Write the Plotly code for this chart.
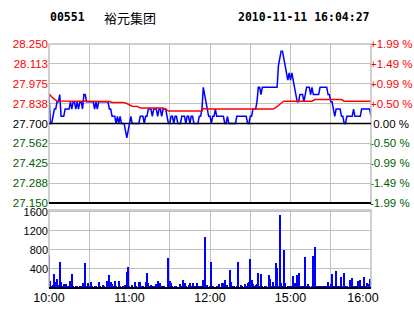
import plotly.graph_objects as go

# ---------------- data ----------------
stock_code = "00551"
stock_name = "裕元集团"
stamp = "2010-11-11 16:04:27"
prev_close = 27.70

price = [
    27.90, 27.70, 27.70, 27.75, 27.80, 27.80, 27.85, 27.85, 27.90, 27.75,
    27.75, 27.75, 27.80, 27.80, 27.80, 27.80, 27.85, 27.80, 27.85, 27.85,
    27.80, 27.85, 27.80, 27.85, 27.85, 27.80, 27.90, 27.90, 27.85, 27.85,
    27.85, 27.85, 27.85, 27.85, 27.80, 27.85, 27.80, 27.85, 27.85, 27.85,
    27.85, 27.85, 27.85, 27.85, 27.85, 27.80, 27.80, 27.75, 27.75, 27.75,
    27.70, 27.75, 27.70, 27.75, 27.70, 27.70, 27.70, 27.65, 27.60, 27.65,
    27.70, 27.75, 27.70, 27.70, 27.70, 27.70, 27.70, 27.70, 27.75, 27.75,
    27.75, 27.70, 27.75, 27.75, 27.80, 27.80, 27.80, 27.75, 27.80, 27.80,
    27.80, 27.75, 27.80, 27.80, 27.75, 27.80, 27.80, 27.80, 27.75, 27.70,
    27.70, 27.75, 27.75, 27.70, 27.75, 27.75, 27.70, 27.70, 27.70, 27.75,
    27.75, 27.75, 27.70, 27.75, 27.75, 27.70, 27.75, 27.75, 27.70, 27.70,
    27.70, 27.70, 27.75, 27.75, 27.80, 27.95, 27.90, 27.85, 27.80, 27.75,
    27.75, 27.70, 27.75, 27.75, 27.80, 27.75, 27.75, 27.75, 27.75, 27.75,
    27.75, 27.70, 27.70, 27.75, 27.70, 27.70, 27.70, 27.70, 27.70, 27.70,
    27.75, 27.75, 27.75, 27.75, 27.75, 27.75, 27.75, 27.75, 27.70, 27.70,
    27.75, 27.75, 27.80, 27.80, 27.80, 27.85, 27.95, 27.95, 27.90, 27.95,
    27.95, 27.95, 27.95, 27.95, 27.95, 27.95, 27.95, 27.95, 27.95, 27.95,
    27.95, 28.10, 28.15, 28.20, 28.20, 28.15, 28.10, 28.05, 28.00, 28.05,
    28.00, 28.05, 28.00, 27.95, 27.90, 27.85, 27.85, 27.90, 27.90, 27.90,
    27.85, 27.90, 27.95, 27.95, 27.95, 27.90, 27.95, 27.90, 27.90, 27.90,
    27.90, 27.90, 27.95, 27.95, 27.95, 27.95, 27.95, 27.95, 27.90, 27.90,
    27.85, 27.85, 27.80, 27.75, 27.80, 27.80, 27.80, 27.80, 27.75, 27.75,
    27.70, 27.70, 27.75, 27.75, 27.75, 27.75, 27.75, 27.80, 27.75, 27.75,
    27.75, 27.75, 27.75, 27.80, 27.80, 27.80, 27.80, 27.80, 27.80, 27.80,
    27.75,
]
minutes = list(range(len(price)))

avg_t = [0, 3, 6, 45, 47, 55, 58, 62, 66, 68, 85, 87, 89, 114, 115, 117, 120,
         140, 142, 152, 155, 167, 169, 171, 173, 175, 196, 198, 218, 220, 240]
avg_p = [27.905, 27.875, 27.855, 27.852, 27.846, 27.846, 27.838, 27.82, 27.818,
         27.808, 27.808, 27.80, 27.786, 27.786, 27.805, 27.80, 27.80, 27.80,
         27.795, 27.795, 27.80, 27.80, 27.81, 27.822, 27.84, 27.854, 27.854,
         27.866, 27.866, 27.854, 27.854]

volume = [
    700, 140, 50, 60, 290, 130, 180, 60, 550, 130,
    40, 75, 60, 80, 50, 30, 150, 290, 40, 30,
    40, 50, 20, 40, 40, 109, 30, 520, 40, 109,
    40, 130, 40, 30, 40, 40, 20, 130, 40, 30,
    60, 40, 30, 150, 40, 266, 117, 80, 40, 150,
    40, 30, 150, 40, 30, 40, 20, 60, 335, 437,
    40, 20, 60, 30, 130, 40, 30, 130, 130, 40,
    40, 30, 130, 314, 109, 40, 60, 40, 50, 30,
    80, 143, 40, 116, 40, 40, 40, 30, 20, 642,
    143, 116, 40, 30, 40, 40, 20, 30, 82, 40,
    164, 116, 40, 30, 60, 95, 40, 116, 30, 40,
    116, 40, 40, 40, 30, 178, 1066, 40, 60, 30,
    40, 553, 40, 30, 20, 40, 40, 80, 30, 95,
    95, 178, 40, 60, 30, 369, 130, 40, 40, 30,
    40, 553, 30, 60, 40, 30, 80, 40, 95, 130,
    621, 178, 75, 40, 60, 80, 314, 40, 290, 40,
    30, 40, 40, 30, 267, 180, 40, 120, 40, 526,
    431, 40, 1531, 100, 40, 793, 100, 30, 40, 40,
    40, 40, 246, 100, 40, 267, 307, 30, 40, 40,
    30, 656, 40, 80, 40, 30, 40, 677, 861, 30,
    40, 40, 40, 40, 40, 40, 40, 40, 120, 40,
    80, 287, 40, 40, 349, 40, 40, 30, 232, 40,
    307, 40, 40, 30, 170, 40, 212, 40, 30, 40,
    150, 40, 164, 40, 30, 225, 40, 100, 80, 185,
    160,
]

price_ticks = [27.150, 27.288, 27.425, 27.562, 27.700, 27.838, 27.975, 28.113, 28.250]
price_labels = ["27.150", "27.288", "27.425", "27.562", "27.700", "27.838", "27.975", "28.113", "28.250"]
pct_labels = ["-1.99 %", "-1.49 %", "-0.99 %", "-0.50 %", "\u00a00.00 %", "+0.50 %", "+0.99 %", "+1.49 %", "+1.99 %"]
vol_ticks = [400, 800, 1200, 1600]
vol_labels = ["400", "800", "1200", "1600"]
grid_times = [0, 30, 60, 90, 120, 150, 180, 210, 240]
time_labels = ["10:00", "", "11:00", "", "12:00", "", "15:00", "", ""]
last_label_pos = [234]
last_label = ["16:00"]

# ---------------- style ----------------
RED = "#ff0000"
GREEN = "#006000"
BLACK = "#000000"
GRID = "#c0c0c0"
FONT = "Liberation Sans, Arial, sans-serif"


def colored(labels, vals):
    out = []
    for lab, v in zip(labels, vals):
        if abs(v - prev_close) < 1e-6:
            c = BLACK
        elif v > prev_close:
            c = RED
        else:
            c = GREEN
        out.append("<span style='color:%s'>%s</span>" % (c, lab))
    return out


fig = go.Figure()
fig.add_trace(go.Scatter(x=minutes, y=price, mode="lines", xaxis="x", yaxis="y",
                         line=dict(color="#0000ff", width=1.5), hoverinfo="skip"))
fig.add_trace(go.Scatter(x=avg_t, y=avg_p, mode="lines", xaxis="x", yaxis="y",
                         line=dict(color=RED, width=1.5), hoverinfo="skip"))
fig.add_trace(go.Bar(x=minutes, y=volume, xaxis="x2", yaxis="y2", width=0.75,
                     marker=dict(color="#0000ff", line=dict(width=0)), hoverinfo="skip"))
# invisible carriers so the percentage axis and the last time label are drawn
fig.add_trace(go.Scatter(x=minutes, y=price, mode="lines", xaxis="x", yaxis="y3",
                         line=dict(color="rgba(0,0,0,0)", width=0), hoverinfo="skip"))
fig.add_trace(go.Scatter(x=minutes, y=volume, mode="lines", xaxis="x3", yaxis="y2",
                         line=dict(color="rgba(0,0,0,0)", width=0), hoverinfo="skip"))

top_dom = [0.3484, 1.0]
bot_dom = [0.0, 0.3197]

common = dict(automargin=False, zeroline=False, showline=False, ticks="")

fig.update_layout(
    width=414, height=314,
    margin=dict(l=49, r=43, t=44, b=26, pad=0, autoexpand=False),
    paper_bgcolor="white", plot_bgcolor="white",
    showlegend=False, bargap=0,
    font=dict(family=FONT, size=12, color=BLACK),
    xaxis=dict(domain=[0, 1], anchor="y", range=[0, 240], tickvals=grid_times,
               showticklabels=False, showgrid=True, gridcolor=GRID, gridwidth=1, **common),
    yaxis=dict(domain=top_dom, anchor="x", range=[27.15, 28.25], tickvals=price_ticks,
               ticktext=colored(price_labels, price_ticks), showgrid=True, gridcolor=GRID,
               gridwidth=1, tickfont=dict(family=FONT, size=11.5), **common),
    yaxis3=dict(overlaying="y", side="right", anchor="x", range=[27.15, 28.25],
                tickvals=price_ticks, ticktext=colored(pct_labels, price_ticks),
                showgrid=False, ticklabelstandoff=-2,
                tickfont=dict(family=FONT, size=11.5), **common),
    xaxis2=dict(domain=[0, 1], anchor="y2", range=[0, 240], tickvals=grid_times,
                ticktext=time_labels, showgrid=True, gridcolor=GRID, gridwidth=1,
                tickfont=dict(family=FONT, size=12.5), **common),
    xaxis3=dict(overlaying="x2", anchor="y2", range=[0, 240], tickvals=last_label_pos,
                ticktext=last_label, showgrid=False, side="bottom",
                tickfont=dict(family=FONT, size=12.5), **common),
    yaxis2=dict(domain=bot_dom, anchor="x2", range=[0, 1642], tickvals=vol_ticks,
                ticktext=vol_labels, showgrid=True, gridcolor=GRID, gridwidth=1,
                tickfont=dict(family=FONT, size=11), **common),
)

shapes = [
    # price panel frame
    dict(type="rect", xref="x domain", yref="y domain", x0=0, x1=1, y0=0, y1=1,
         line=dict(color=GRID, width=1.5), layer="above"),
    dict(type="line", xref="x domain", yref="y", x0=0, x1=1, y0=prev_close, y1=prev_close,
         line=dict(color=BLACK, width=1.5), layer="above"),
    dict(type="line", xref="x domain", yref="y domain", x0=0, x1=1, y0=0, y1=0,
         line=dict(color=BLACK, width=2), layer="above"),
    # volume panel frame
    dict(type="rect", xref="x2 domain", yref="y2 domain", x0=0, x1=1, y0=0, y1=1,
         line=dict(color=GRID, width=1.5), layer="above"),
    dict(type="line", xref="x2 domain", yref="y2 domain", x0=0, x1=1, y0=0, y1=0,
         line=dict(color=BLACK, width=2), layer="above"),
]
fig.update_layout(shapes=shapes)

title_y = (314 - 26 - 17) / 244.0
fig.add_annotation(x=(67 - 49) / 322.0, y=title_y, xref="paper", yref="paper",
                   text="<b>%s</b>" % stock_code, showarrow=False, xanchor="center",
                   yanchor="middle", font=dict(family="DejaVu Sans Mono", size=11.5, color=BLACK))
fig.add_annotation(x=(130 - 49) / 322.0, y=title_y, xref="paper", yref="paper",
                   text=stock_name, showarrow=False, xanchor="center", yanchor="middle",
                   font=dict(family="Noto Sans CJK SC", size=13, color=BLACK))
fig.add_annotation(x=(303.5 - 49) / 322.0, y=title_y, xref="paper", yref="paper",
                   text="<b>%s</b>" % stamp, showarrow=False, xanchor="center",
                   yanchor="middle", font=dict(family="DejaVu Sans Mono", size=11.5, color=BLACK))

fig.write_html("out.html")
